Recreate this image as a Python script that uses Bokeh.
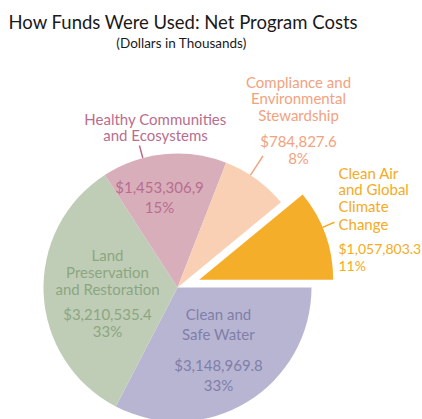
import numpy as np
from bokeh.plotting import figure
from bokeh.models import Range1d
from bokeh.core.properties import value
from bokeh.embed import file_html
from bokeh.resources import INLINE

# ---- data ----
categories = ["Clean and Safe Water", "Land Preservation and Restoration",
              "Healthy Communities and Ecosystems",
              "Compliance and Environmental Stewardship",
              "Clean Air and Global Climate Change"]
name_lines = [["Clean and", "Safe Water"],
              ["Land", "Preservation", "and Restoration"],
              ["Healthy Communities", "and Ecosystems"],
              ["Compliance and", "Environmental", "Stewardship"],
              ["Clean Air", "and Global", "Climate", "Change"]]
amounts = [3148969.8, 3210535.4, 1453306.9, 784827.6, 1057803.3]
value_labels = ["$3,148,969.8", "$3,210,535.4", "$1,453,306,9", "$784,827.6", "$1,057,803.3"]
pct_labels = ["33%", "33%", "15%", "8%", "11%"]

# ---- styles ----
slice_colors = ["#b8b5d3", "#bfcdb6", "#d8aebb", "#fad0b4", "#f5ae2a"]
text_colors = ["#7f7fa8", "#8ca682", "#b96d8e", "#f2a27e", "#f5ab22"]
explode = [0, 0, 0, 0, 23]
FONT = "Lato"
W, H = 422, 419

# ---- layout (page pixels, y downward) ----
CX, CY, R = 177, 287, 134
# per slice: x, align, name line ys, value y, pct y, value font size
label_layout = [
    (218, "center", [313, 333], 364, 384, "15px"),
    (107, "center", [254, 271, 288], 313, 330, "15px"),
    (157, "center", [118, 134], 186, 206, "15px"),
    (298, "center", [81, 97, 114], 140, 157, "15px"),
    (338, "left", [172, 188, 205, 223], 248, 265, "14px"),
]
label_x_override = {2: (155, 159)}
# leader lines: (slice index, angle deg, r0, r1)
leaders = [(2, 105, R, 147), (3, 57, R, 157), (4, 23, R, 147)]

p = figure(width=W, height=H, x_range=Range1d(0, W), y_range=Range1d(-H, 0),
           output_backend="svg", toolbar_location=None, min_border=0)
p.axis.visible = False
p.grid.visible = False
p.outline_line_color = None
p.background_fill_color = "white"

total = sum(amounts)
cum = np.concatenate([[0], np.cumsum(amounts)]) / total * 2 * np.pi
centers = []
for i in range(len(amounts)):
    a0, a1 = -cum[i + 1], -cum[i]
    mid = (a0 + a1) / 2
    cx = CX + explode[i] * np.cos(mid)
    cy = -CY + explode[i] * np.sin(mid)
    centers.append((cx, cy))
    p.wedge(x=[cx], y=[cy], radius=R, start_angle=[a0], end_angle=[a1],
            fill_color=slice_colors[i], line_color=None)

for i, ang, r0, r1 in leaders:
    cx, cy = centers[i]
    t = np.deg2rad(ang)
    p.segment(x0=[cx + r0 * np.cos(t)], y0=[cy + r0 * np.sin(t)],
              x1=[cx + r1 * np.cos(t)], y1=[cy + r1 * np.sin(t)],
              line_color=text_colors[i], line_width=1.5)

for i, (lx, align, ys, vy, py, vfs) in enumerate(label_layout):
    nx, vx = label_x_override.get(i, (lx, lx))
    p.text(x=[nx] * len(ys), y=[-y for y in ys], text=name_lines[i],
           text_color=text_colors[i], text_font=value(FONT),
           text_font_size="15px", text_align=align, text_baseline="middle")
    p.text(x=[vx, vx], y=[-vy, -py], text=[value_labels[i], pct_labels[i]],
           text_color=text_colors[i], text_font=value(FONT),
           text_font_size=vfs, text_align=align, text_baseline="middle")

p.text(x=[8], y=[-21], text=["How Funds Were Used: Net Program Costs"], text_color="#1a1a1a",
       text_font=value(FONT), text_font_size="18.5px", text_align="left", text_baseline="middle")
p.text(x=[181], y=[-42], text=["(Dollars in Thousands)"], text_color="#1a1a1a",
       text_font=value(FONT), text_font_size="13.5px", text_align="center", text_baseline="middle")

open("out.html", "w").write(file_html(p, INLINE))
